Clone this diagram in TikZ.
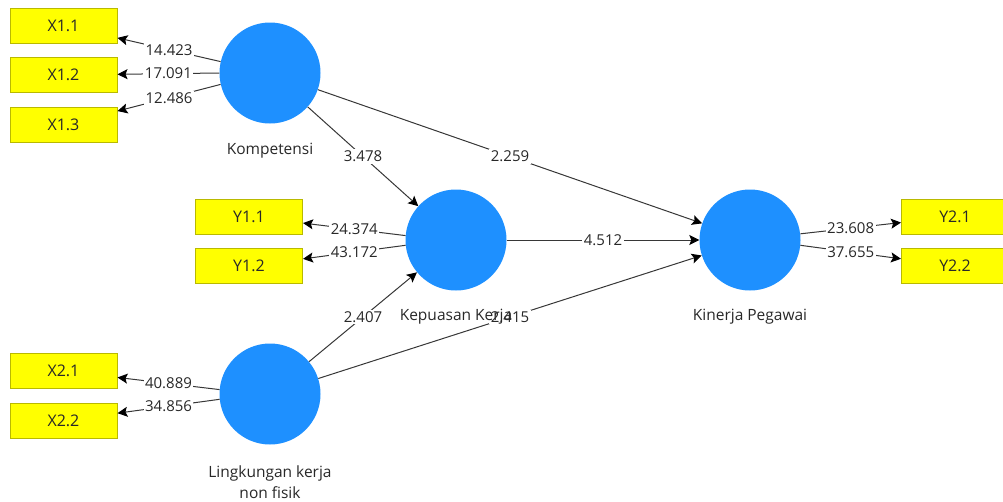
\documentclass[tikz,border=0pt]{standalone}
\usepackage{fontspec}
\setmainfont{Open Sans}
\usetikzlibrary{arrows.meta}
\definecolor{lvblue}{RGB}{30,144,255}
\definecolor{boxyellow}{RGB}{255,255,0}
\definecolor{boxborder}{RGB}{185,185,0}
\definecolor{linegray}{RGB}{55,55,55}
\definecolor{txt}{RGB}{40,40,40}
\begin{document}
\begin{tikzpicture}[x=1pt,y=-1pt,
  lv/.style={circle,fill=lvblue,minimum size=101pt,inner sep=0pt},
  mv/.style={rectangle,fill=boxyellow,draw=boxborder,line width=1pt,minimum width=107pt,minimum height=35pt,inner sep=0pt,text=txt,font=\fontsize{16}{19}\selectfont},
  conn/.style={draw=linegray,line width=1pt,-{Stealth[length=10pt,width=10pt,inset=2pt,color=black]}},
  lbl/.style={fill=white,inner sep=1.5pt,text=txt,font=\fontsize{15}{18}\selectfont},
  lvname/.style={text=txt,align=center,font=\fontsize{15.5}{21}\selectfont}
]
\useasboundingbox (0,0) rectangle (1003,501);

% latent variables
\node[lv] (K)  at (270,73)  {};
\node[lv] (KP) at (456,240) {};
\node[lv] (KG) at (750,240) {};
\node[lv] (L)  at (270,394) {};

% indicators
\node[mv] (X11) at (63.5,25.5) {X1.1};
\node[mv] (X12) at (63.5,75)   {X1.2};
\node[mv] (X13) at (63.5,125)  {X1.3};
\node[mv] (Y11) at (249,216.5) {Y1.1};
\node[mv] (Y12) at (249,266)   {Y1.2};
\node[mv] (Y21) at (955,216.5) {Y2.1};
\node[mv] (Y22) at (955,266)   {Y2.2};
\node[mv] (X21) at (63.5,371)  {X2.1};
\node[mv] (X22) at (63.5,420.5){X2.2};

% outer model
\draw[conn] (K.167) -- node[lbl] {14.423} (X11);
\draw[conn] (K.180) -- node[lbl] {17.091} (X12);
\draw[conn] (K.193) -- node[lbl] {12.486} (X13);
\draw[conn] (KP.175) -- node[lbl] {24.374} (Y11);
\draw[conn] (KP.186) -- node[lbl] {43.172} (Y12);
\draw[conn] (KG.7) -- node[lbl] {23.608} (Y21);
\draw[conn] (KG.-6) -- node[lbl] {37.655} (Y22);
\draw[conn] (L.175) -- node[lbl] {40.889} (X21);
\draw[conn] (L.186) -- node[lbl] {34.856} (X22);

% inner model
\draw[conn] (K) -- node[lbl] {3.478} (KP);
\draw[conn] (K) -- node[lbl] {2.259} (KG);
\draw[conn] (KP) -- node[lbl] {4.512} (KG);
\draw[conn] (L) -- node[lbl] {2.407} (KP);
\draw[conn] (L) -- node[lbl] {2.415} (KG);

% captions
\node[lvname] (Kc)  at (270,151) {Kompetensi};
\node[lvname] (KPc) at (456,317) {Kepuasan Kerja};
\node[lvname] (KGc) at (750,317) {Kinerja Pegawai};
\node[lvname] (Lc)  at (270,482) {Lingkungan kerja\\non fisik};
\end{tikzpicture}
\end{document}
